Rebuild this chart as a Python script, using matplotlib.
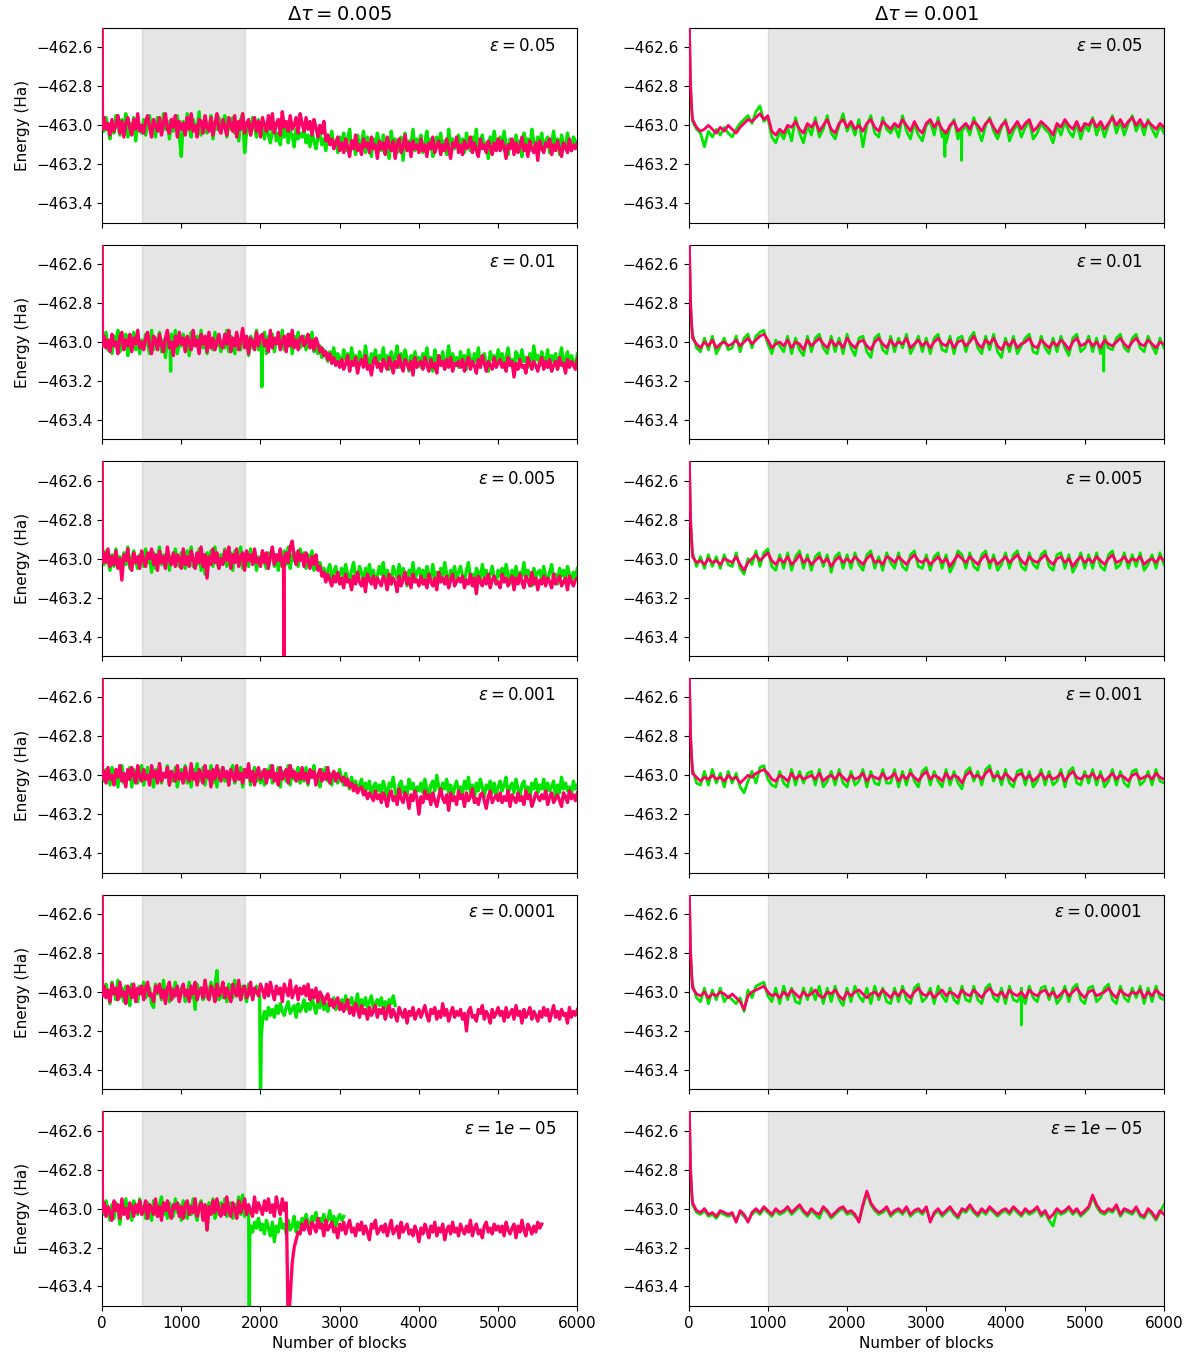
import numpy as np
import matplotlib
matplotlib.use("Agg")
import matplotlib.pyplot as plt

# Energies are stored as offsets from E_REF in units of 0.01 Ha
E_REF = -463.0
UNIT = 0.01

# sampling grids of the block traces
blocks_left = np.arange(25, 6001, 25)    # dtau = 0.005 runs
blocks_right = np.arange(50, 6001, 50)   # dtau = 0.001 runs

dtau_labels = ["0.005", "0.001"]
eps_labels = ["0.05", "0.01", "0.005", "0.001", "0.0001", "1e-05"]
yticks = [-462.6, -462.8, -463.0, -463.2, -463.4]
xticks = [0, 1000, 2000, 3000, 4000, 5000, 6000]
equil_left = (500, 1800)
equil_right = (1000, 6000)

# start of every run (equilibration transient)
left_head_blocks = [0, 5]
left_head_vals = [60, -2]
right_head_blocks = [0, 10, 25, 40]
right_head_vals = [60, 50, 20, 8]

# ---------------- dtau = 0.005 ----------------
l1_green = [
    -3, 4, -1, -7, 2, -4, 5, 0, -5, 3, -2, 6, -6, 1, -3, 4, -8, 2, -1, -4,
    3, -5, 1, 5, -3, -1, -6, 4, 0, -4, 6, -2, 2, -7, 3, -3, 1, 5, -5, -16,
    2, -4, 6, -1, -6, 3, 0, -3, 7, -5, 1, 4, -4, -1, 5, -7, 2, -2, 4, -3,
    0, 5, -6, 2, -2, 4, -4, 1, -8, 3, 6, -14, -3, 2, -5, 4, -1, -6, 3, -4,
    -2, -7, 1, -5, -9, -3, 0, -8, -4, -10, -1, -6, 2, -9, -3, -5, -11, -2, -7, -4,
    -6, -2, -9, -5, -11, -3, -8, -12, -6, -4, -10, -7, -13, -5, -9, -3, -11, -8, -14, -6,
    -10, -4, -13, -7, -2, -12, -8, -15, -5, -11, -9, -3, -14, -6, -10, -16, -7, -12, -4, -9,
    -13, -5, -10, -8, -17, -3, -11, -7, -14, -9, -6, -18, -4, -12, -8, -10, -2, -13, -7, -11,
    -5, -14, -9, -3, -12, -7, -16, -10, -6, -11, -4, -13, -8, -15, -2, -10, -7, -12, -9, -5,
    -11, -7, -14, -4, -9, -13, -6, -10, -2, -15, -8, -5, -12, -9, -17, -6, -11, -3, -10, -8,
    -6, -12, -3, -10, -15, -7, -9, -13, -5, -11, -8, -16, -4, -10, -7, -13, -2, -9, -12, -6,
    -10, -4, -13, -8, -6, -14, -9, -3, -11, -7, -15, -5, -10, -12, -4, -9, -13, -6, -8, -11,
]
l1_pink = [
    4, -2, 1, -5, 3, -3, 0, 5, -4, 2, -6, 1, 4, -1, -5, 3, -2, 6, -3, 0,
    -4, 2, 5, -1, -6, 3, 0, -3, 4, -5, 1, 6, -2, -4, 3, -1, 5, -6, 2, -2,
    1, -5, 4, -2, 6, -3, 0, -6, 3, 2, -4, 5, -1, -3, 4, -5, 1, 6, -2, -4,
    3, -1, -5, 4, 0, -3, 5, -6, 2, -2, 6, -4, 1, 3, -5, 0, 4, -3, 2, -6,
    4, 0, -3, 5, -2, 6, -4, 1, 3, -5, 7, -1, 2, -3, 5, -2, 0, 4, -4, 6,
    1, -3, 4, -2, 2, -5, 3, -1, -6, 0, -4, 2, -8, -5, -10, -7, -12, -9, -6, -13,
    -9, -14, -7, -11, -16, -8, -12, -5, -13, -10, -15, -7, -11, -9, -14, -6, -12, -10, -17, -8,
    -12, -9, -15, -6, -11, -13, -8, -17, -10, -7, -14, -11, -5, -13, -9, -16, -8, -12, -10, -14,
    -7, -13, -10, -16, -9, -12, -6, -14, -11, -8, -15, -10, -13, -7, -12, -17, -9, -11, -6, -14,
    -10, -15, -8, -12, -11, -6, -14, -9, -13, -16, -7, -12, -10, -14, -8, -11, -15, -9, -13, -7,
    -13, -8, -11, -17, -10, -12, -7, -15, -9, -14, -11, -6, -13, -10, -16, -8, -12, -14, -9, -18,
    -8, -12, -14, -9, -11, -7, -15, -10, -13, -8, -12, -16, -9, -11, -14, -7, -13, -10, -12, -9,
]

l2_green = [
    -2, 5, -4, 1, -6, 3, -1, 6, -5, 2, -3, 4, -7, 0, -2, 5, -4, 3, -6, 1,
    -3, 4, -1, -6, 6, -4, 2, -2, 5, -5, 1, -8, 3, -1, 4, -3, 6, -6, 0, -2,
    4, -4, 2, -7, 5, -2, 0, 3, -5, 6, -3, 1, -6, 4, -1, -4, 5, -2, 2, -5,
    1, -3, 6, -5, 3, -1, -6, 4, 0, -4, 5, -2, 2, -7, 3, -3, 1, 6, -4, 0,
    -2, 5, -6, 3, -1, 4, -5, 2, 0, -3, 6, -4, 1, -2, 4, -6, 3, -1, 5, -3,
    -1, 3, -4, 1, -3, 5, -5, -1, -6, -2, -8, -4, -7, -10, -5, -9, -3, -11, -6, -8,
    -12, -4, -9, -6, -13, -3, -10, -7, -14, -5, -8, -11, -2, -9, -13, -6, -10, -4, -12, -7,
    -9, -3, -11, -7, -14, -5, -10, -8, -2, -13, -6, -12, -4, -9, -15, -7, -11, -5, -10, -8,
    -13, -6, -9, -3, -12, -8, -15, -4, -10, -7, -11, -5, -14, -9, -2, -12, -6, -10, -8, -13,
    -5, -11, -7, -14, -4, -9, -12, -6, -10, -3, -13, -8, -6, -11, -15, -5, -9, -7, -12, -4,
    -10, -6, -13, -8, -3, -11, -9, -14, -5, -7, -12, -4, -10, -8, -13, -6, -11, -2, -9, -7,
    -12, -5, -9, -11, -4, -13, -7, -10, -6, -14, -8, -3, -11, -9, -5, -12, -7, -10, -13, -6,
]
l2_green_spike_blocks = [860, 865, 870, 2012, 2017, 2022]
l2_green_spike_vals = [-2, -15, -1, -3, -23, -3]
l2_pink = [
    3, -3, 1, -5, 4, -2, 0, -6, 3, 5, -4, 1, -2, 4, -5, 2, -1, 6, -3, 0,
    -4, 2, 5, -2, -6, 3, 1, -4, 4, -1, -5, 2, 6, -3, 0, -7, 3, -2, 5, -1,
    2, -5, 3, 0, -4, 6, -2, 1, -6, 4, -1, 3, -5, 5, -3, 2, -4, 0, 4, -2,
    -3, 4, -1, 6, -5, 2, -2, 5, -4, 1, 7, -3, 3, -6, 2, 0, -4, 5, -2, 3,
    4, -2, 1, -5, 6, -3, 2, -1, 5, -4, 0, 3, -5, 4, -2, 6, -3, 1, -4, 2,
    3, -2, 0, 4, -3, 1, -4, 2, -1, -5, -3, -7, -5, -9, -6, -11, -8, -12, -10, -13,
    -9, -14, -11, -7, -15, -10, -12, -8, -16, -11, -9, -13, -7, -14, -12, -17, -10, -8, -13, -11,
    -15, -9, -12, -14, -8, -11, -16, -10, -13, -7, -12, -15, -9, -11, -14, -10, -17, -8, -13, -11,
    -10, -14, -8, -12, -15, -9, -13, -11, -16, -7, -12, -10, -14, -9, -13, -8, -15, -11, -12, -10,
    -13, -9, -15, -11, -8, -14, -10, -12, -16, -9, -13, -7, -11, -15, -10, -12, -14, -8, -13, -11,
    -9, -13, -11, -15, -8, -12, -10, -18, -11, -14, -9, -13, -12, -16, -8, -11, -14, -10, -12, -15,
    -11, -8, -14, -10, -13, -9, -15, -12, -10, -14, -8, -12, -11, -16, -9, -13, -10, -12, -14, -9,
]

l3_green = [
    -3, 4, -1, -6, 2, -4, 5, -2, 1, -7, 3, -3, 6, -5, 0, 4, -2, -5, 2, -1,
    -4, 5, -2, 1, -7, 3, -5, 0, 6, -3, 2, -4, 4, -6, 1, -2, 5, -1, -4, 3,
    1, -5, 4, -2, 6, -4, 0, -3, 5, -6, 2, -8, 3, -1, 4, -4, 6, -2, -5, 2,
    -2, 5, -4, 1, 3, -6, 4, -1, -3, 6, -5, 2, 0, -4, 5, -2, 3, -6, 1, -3,
    4, -2, -5, 3, 0, 5, -4, 2, -6, 1, -2, 4, -3, 6, -5, 2, -1, 3, -4, 5,
    -1, 3, -5, 2, -3, 4, -6, 0, -4, -2, -7, -5, -9, -6, -3, -10, -7, -4, -11, -8,
    -5, -10, -3, -8, -12, -6, -2, -9, -11, -4, -7, -13, -5, -8, -3, -10, -6, -12, -9, -4,
    -8, -2, -11, -6, -9, -13, -4, -7, -10, -3, -12, -5, -8, -14, -6, -9, -2, -11, -7, -5,
    -10, -6, -13, -4, -8, -11, -3, -9, -7, -12, -5, -10, -2, -8, -13, -6, -9, -4, -11, -7,
    -4, -9, -12, -6, -2, -10, -8, -14, -5, -7, -11, -3, -9, -6, -12, -8, -4, -10, -13, -6,
    -9, -5, -11, -3, -8, -13, -6, -10, -4, -12, -7, -9, -2, -11, -6, -8, -14, -5, -10, -7,
    -6, -11, -4, -9, -12, -7, -3, -10, -8, -13, -5, -9, -6, -11, -4, -8, -12, -7, -10, -5,
]
l3_pink = [
    3, -2, 5, -4, 1, -3, 4, -5, 0, -11, 2, -1, 5, -3, -6, 3, -2, 1, -5, 4,
    -1, -4, 3, 0, 5, -3, 2, -6, 4, -2, 1, -5, 6, -1, -3, 3, -4, 2, 0, -5,
    5, -3, 1, -4, 4, 0, -5, 3, -2, 6, -4, 2, -10, 1, -3, 5, -2, 3, -5, 0,
    -3, 4, -1, 6, -5, 2, -2, 5, -4, 1, 3, -6, 4, -1, 2, -3, 5, -2, 0, -4,
    4, -2, 3, -5, 1, 6, -3, 2, -1, 5, -4, 0, 3, -2, 6, 9, 1, -3, 4, -1,
    2, -4, 3, -1, -5, 1, -3, 2, -6, -4, -9, -7, -12, -8, -11, -14, -9, -12, -7, -13,
    -10, -15, -8, -12, -11, -16, -9, -13, -7, -12, -14, -10, -17, -8, -11, -13, -9, -15, -10, -12,
    -14, -9, -11, -16, -8, -13, -10, -12, -17, -9, -14, -11, -7, -13, -10, -15, -8, -12, -11, -14,
    -9, -13, -11, -15, -8, -12, -14, -10, -16, -7, -12, -10, -13, -9, -15, -11, -8, -14, -12, -10,
    -12, -9, -15, -11, -13, -8, -14, -10, -18, -9, -12, -14, -10, -13, -8, -15, -11, -9, -13, -12,
    -15, -8, -12, -10, -14, -11, -9, -16, -10, -13, -8, -12, -15, -9, -11, -14, -7, -13, -10, -16,
    -11, -13, -9, -14, -10, -12, -15, -8, -13, -11, -9, -14, -12, -10, -16, -9, -12, -14, -11, -10,
]
l3_pink_spike_blocks = [2290, 2295, 2298]
l3_pink_spike_vals = [0, -60, -1]

l4_green = [
    -3, 3, -1, -5, 4, -2, 1, -6, 2, 5, -4, 0, -2, 4, -6, 3, -1, -4, 2, 5,
    -5, 1, 4, -3, 0, -6, 3, -2, 6, -4, 1, -1, 5, -5, 2, -3, 4, -6, 0, 3,
    -2, 5, -4, 1, -6, 3, -1, 6, -3, 0, 4, -5, 2, -2, 5, -4, 1, -6, 3, -1,
    4, -3, 0, -5, 2, 5, -4, 1, -2, 4, -6, 3, -1, 2, -5, 0, 4, -3, 1, -4,
    2, -5, 3, -1, 5, -4, 0, -2, 4, -6, 2, 1, -3, 5, -5, 3, -2, 0, 4, -4,
    1, -3, 4, -5, 2, -1, 5, -4, 0, -6, 3, -2, 4, -3, 1, -5, 2, 0, -4, 3,
    -2, -5, 1, -4, -7, -1, -6, -3, -8, -5, -2, -9, -4, -7, -3, -10, -6, -4, -8, -5,
    -9, -3, -7, -11, -4, -6, -1, -8, -12, -5, -3, -9, -6, -10, -2, -7, -4, -11, -6, -8,
    -4, -9, -2, -7, -11, -5, -3, -8, 0, -6, -10, -4, -7, -2, -9, -5, -12, -6, -3, -8,
    -6, -10, -3, -7, -1, -9, -5, -12, -4, -8, -2, -6, -11, -5, -7, -3, -9, -4, -10, -6,
    -3, -8, -5, -1, -10, -6, -4, -9, -2, -7, -11, -5, -3, -8, -6, -12, -4, -7, -2, -9,
    -5, -7, -2, -10, -4, -8, -6, -3, -11, -5, -9, -1, -7, -4, -8, -6, -10, -3, -7, -5,
]
l4_pink = [
    2, -4, 4, -2, 0, -5, 3, -1, 5, -3, 1, -6, 3, -2, 4, 0, -4, 5, -1, -3,
    3, -2, 0, -5, 5, -1, 2, -4, 6, -3, 1, -1, 4, -5, 2, 0, -3, 5, -2, 1,
    -4, 4, -1, -3, 6, -2, 1, -5, 3, 0, -4, 5, -1, 2, -6, 3, -2, 5, 0, -3,
    4, -1, 2, -5, 3, 0, -3, 5, -2, 1, -4, 3, -1, 6, -3, 2, -5, 1, 4, -2,
    0, 3, -4, 2, -1, 5, -3, 1, -5, 4, -2, 0, 3, -4, 5, -1, 2, -3, 1, -2,
    4, -2, 1, -4, 3, -1, 2, -5, 0, 3, -3, 1, -2, 4, -4, 0, 2, -3, 1, -1,
    -3, -1, -5, -2, -6, -4, -8, -5, -9, -7, -6, -10, -8, -12, -9, -11, -13, -8, -12, -10,
    -14, -9, -12, -16, -10, -8, -13, -11, -15, -7, -12, -14, -9, -11, -17, -10, -13, -8, -12, -20,
    -11, -14, -8, -12, -10, -15, -9, -13, -16, -11, -7, -12, -14, -10, -18, -9, -13, -11, -15, -8,
    -12, -10, -16, -9, -13, -11, -7, -14, -12, -15, -10, -9, -13, -17, -11, -8, -14, -12, -10, -13,
    -9, -14, -11, -13, -8, -16, -10, -12, -14, -9, -13, -11, -15, -8, -12, -10, -16, -13, -9, -11,
    -13, -10, -12, -8, -15, -11, -9, -14, -12, -10, -13, -16, -9, -11, -14, -8, -12, -10, -13, -9,
]

l5_green = [
    -2, 4, -1, -6, 5, 1, -4, 6, -3, 2, -5, 3, 0, -7, 4, -2, 1, -5, 3, -1,
    5, -3, 0, 2, -6, -8, 4, -1, 3, -4, 6, -2, 1, -5, 2, -3, 5, 0, -4, 2,
    3, -5, -2, 5, -3, 1, -9, 4, -1, 2, -4, 6, -3, 0, 5, -2, 3, 11, -4, 2,
    -3, 2, -5, 4, 0, -3, 6, -2, 1, -4, 3, -1, -5, 4, 2, -3, 0, 3, -2, -60,
    -15, -10, -14, -8, -12, -9, -13, -7, -11, -6, -10, -12, -8, -5, -11, -9, -7, -13, -6, -10,
    -8, -4, -10, -6, -9, -3, -7, -11, -5, -8, -2, -9, -6, -10, -4, -7, -3, -9, -5, -8,
    -4, -7, -2, -9, -5, -3, -8, -6, -1, -10, -4, -7, -3, -8, -5, -2, -9, -6, -4, -7,
    -3, -8, -5, -10, -4, -6, -2, -7,
]
l5_green_spike_blocks = [1990, 2010]
l5_green_spike_vals = [-2, -22]
l5_pink = [
    3, -3, 1, -5, 4, -1, 2, -4, 5, -2, 0, -6, 3, 1, -3, 4, -5, 2, -1, 3,
    -4, 2, 5, -2, -1, -5, 3, 0, 4, -3, 1, -6, 2, 5, -4, 1, -2, 3, -5, 0,
    4, -2, 1, -5, 3, -1, 5, -4, 0, 2, -3, 6, -1, -4, 3, 1, -5, 4, -2, 0,
    5, -3, 2, -1, -5, 4, 0, -2, 6, -4, 1, 3, -3, -1, 5, -4, 2, 0, -2, 4,
    1, -3, 4, -2, 5, 0, -4, 3, -1, 2, -5, 4, 1, -2, 6, -3, 0, 3, -4, 2,
    -1, 3, -2, 4, -4, 1, -3, 2, -5, 0, -2, -6, -3, -1, -7, -4, -8, -5, -3, -9,
    -6, -10, -7, -4, -11, -8, -12, -6, -9, -13, -7, -11, -9, -14, -8, -12, -10, -7, -13, -9,
    -11, -8, -14, -10, -7, -13, -9, -12, -15, -8, -11, -13, -9, -16, -10, -12, -8, -14, -11, -9,
    -13, -10, -7, -12, -15, -9, -11, -8, -14, -10, -13, -6, -12, -9, -15, -11, -8, -13, -10, -12,
    -9, -14, -11, -20, -10, -8, -13, -12, -15, -9, -11, -7, -14, -10, -12, -16, -9, -13, -11, -8,
    -12, -10, -15, -8, -13, -11, -9, -14, -7, -12, -10, -16, -9, -13, -11, -8, -14, -10, -12, -15,
    -10, -13, -8, -12, -9, -15, -11, -7, -13, -10, -14, -9, -12, -11, -16, -8, -13, -10, -12, -9,
]

l6_green = [
    -3, 4, -1, -6, 2, -5, 3, 0, -8, 1, -2, 5, -4, 2, -6, 4, -1, -3, 5, -2,
    1, -5, 3, -2, -6, 4, 0, -4, 2, 6, -3, 1, -5, 3, -1, -4, 5, -2, 2, -6,
    4, -1, -5, 2, -3, 5, -2, -6, 1, 4, -4, 0, -11, 3, -2, 5, -5, 1, -3, 3,
    -2, 5, -4, 0, 3, -5, 2, -1, 6, -3, 7, -4, 1, -2, -9, -12, -7, -10, -5, -11,
    -8, -13, -6, -10, -14, -7, -17, -9, -12, -5, -10, -8, -13, -6, -11, -9, -4, -12, -7, -10,
    -5, -8, -3, -7, -10, -4, -6, -2, -9, -5, -7, -3, -8, -6, -1, -7, -4, -9, -5, -3,
    -6, -4,
]
l6_green_spike_blocks = [1858, 1865]
l6_green_spike_vals = [-60, -14]
l6_pink = [
    3, -4, 1, -2, -6, 4, -1, 2, -5, 5, -3, 0, -5, 3, 1, -4, 2, -2, 4, -3,
    -1, 4, -5, 2, 0, -3, 5, -4, 1, -6, 3, -1, 4, -2, -5, 2, 0, 3, -4, 1,
    -5, 2, 4, -3, 1, -2, 5, -4, 0, 3, -6, 2, -11, 1, -3, 4, -2, 5, -1, -4,
    2, -3, 6, -1, -4, 3, 0, -5, 4, -2, 1, 5, -3, 2, -1, -4, 6, -2, 3, 0,
    -3, 4, -1, 5, -2, 2, -4, 6, 1, -3, 5, -1, 3, -60, -45, -28, -20, -16, -12, -13,
    -8, -11, -6, -10, -13, -7, -9, -12, -5, -10, -8, -14, -6, -11, -9, -7, -12, -10, -15, -8,
    -11, -7, -13, -9, -6, -12, -10, -14, -8, -11, -7, -13, -9, -12, -16, -8, -10, -6, -13, -11,
    -9, -12, -8, -14, -10, -6, -13, -11, -9, -15, -7, -12, -10, -8, -13, -11, -14, -9, -12, -17,
    -10, -13, -8, -11, -15, -9, -12, -7, -14, -10, -12, -8, -16, -11, -9, -13, -7, -12, -10, -14,
    -8, -11, -13, -9, -12, -6, -14, -10, -8, -13, -11, -15, -9, -7, -12, -10, -13, -8, -11, -9,
    -12, -9, -14, -7, -11, -13, -10, -8, -15, -9, -12, -6, -11, -14, -8, -10, -13, -9, -12, -7,
    -10, -8,
]

# ---------------- dtau = 0.001 ----------------
r1_green = [
    2, -2, -4, -11, -3, -6, -2, -5, -1, -4,
    -6, -2, 1, 3, 5, 1, 7, 10, 2, 4,
    -6, -9, -3, -7, -1, -8, 4, -4, -9, 0,
    -5, 4, -6, -2, 5, -4, -7, 0, 6, -3,
    1, -5, 3, -11, 0, 5, -4, -6, 4, -2,
    -4, 0, -6, 5, -3, -7, 1, -5, -8, 0,
    2, -5, 4, -6, -9, -1, 3, -7, -4, 0,
    -5, 4, -2, -8, 0, 4, -3, -7, -1, 3,
    -8, -3, 1, -6, -1, 2, -7, -4, 1, -2,
    -4, -9, 0, -5, 2, -3, -6, 1, -7, 0,
    -3, 4, -5, 1, -6, 0, 5, -4, 2, -5,
    1, 5, -3, 2, -5, 3, -2, -6, 0, -4,
]
r1_green_spike_blocks = [3230, 3235, 3240, 3440, 3445, 3450]
r1_green_spike_vals = [-3, -16, -4, -2, -18, -3]
r1_pink = [
    3, -1, -3, -2, 0, -2, -4, -1, -3, 0,
    -2, -4, -1, 1, 3, 2, 4, 6, 3, 5,
    -3, -5, -2, -4, 0, -1, 2, -2, -4, 1,
    -1, 2, -3, 0, 3, -2, -4, 1, 3, -1,
    2, -2, 0, -3, 1, 3, -1, -3, 2, 0,
    -2, 1, -1, 3, 0, -3, 2, -2, -4, 1,
    3, -1, 2, -2, -4, 0, 2, -3, -1, 1,
    -2, 2, 0, -3, 1, 3, -1, -4, 0, 2,
    -4, -1, 2, -2, 1, 3, -3, -1, 2, 0,
    -2, -5, 1, -1, 3, 0, -2, 2, -3, 1,
    0, 3, -1, 2, -2, 1, 4, 0, 3, -1,
    2, 4, 0, 3, -1, 2, 0, -2, 1, -1,
]

r2_green = [
    4, -3, -5, 2, -4, 3, -6, -2, 2, -4,
    -3, 3, -5, 2, 4, -3, 3, 5, 6, -1,
    -6, 1, -2, -5, 3, -6, 2, -4, -7, 3,
    -5, 2, 4, -3, -6, 3, -5, 2, -6, 4,
    -3, -7, 2, 3, -5, -8, 2, 4, -4, -6,
    3, -5, 2, -3, 4, -6, -2, 3, -5, 2,
    -6, 2, 4, -4, -5, 3, -6, 2, 3, -5,
    2, 5, -3, -6, 3, -4, 4, -5, -8, 2,
    -5, 3, -6, -2, 2, 4, -5, -6, 3, -3,
    -6, 2, -5, 3, -3, -7, 2, 4, -5, -3,
    3, -5, 2, -6, 3, -3, -4, 2, 4, -3,
    -5, 2, 4, -3, -5, 3, -2, -6, 2, -3,
]
r2_green_spike_blocks = [5235, 5240, 5245]
r2_green_spike_vals = [-2, -15, -2]
r2_pink = [
    2, -1, -3, 0, -2, 1, -3, -1, 0, -2,
    -1, 1, -2, 0, 2, -1, 1, 3, 4, 1,
    -3, -1, 0, -2, 1, -3, 0, -1, -4, 1,
    -2, 0, 2, -1, -3, 1, -2, 0, -3, 2,
    -1, -3, 0, 1, -2, -4, 0, 2, -1, -3,
    1, -2, 0, -1, 2, -3, -1, 1, -2, 0,
    -3, 0, 2, -1, -2, 1, -3, 0, 1, -2,
    0, 3, -1, -3, 1, -1, 2, -2, -4, 0,
    -2, 1, -3, -1, 0, 2, -2, -3, 1, -1,
    -3, 0, -2, 1, -1, -4, 0, 2, -2, -1,
    1, -2, 0, -3, 1, -1, -2, 0, 2, -1,
    -3, 0, 2, -1, -2, 1, -1, -3, 0, -1,
]

r3_green = [
    3, -4, 1, -5, 2, -4, 1, -5, 2, -3,
    -4, 3, -5, -8, 0, -3, 4, -4, 3, 5,
    -4, -6, 2, -5, 3, -6, 1, 4, -5, 2,
    -6, 1, 3, -4, 2, -7, 1, 3, -5, 2,
    -5, 3, -3, -6, 2, 4, -5, 1, -6, 3,
    -2, -5, 3, -4, -6, 2, 4, -4, -5, 2,
    -6, 1, 3, -5, 2, -7, -3, 4, 2, -5,
    3, -4, -6, 2, 4, -5, 2, -6, -3, 3,
    -5, 2, 4, -4, -6, 3, -3, -5, 2, 4,
    -4, -6, 2, 3, -5, 2, -7, -3, 3, -5,
    2, -5, 3, -4, -6, 2, 4, -5, -3, 3,
    -5, 2, -4, 3, -6, -3, 2, -5, 3, -3,
]
r3_pink = [
    1, -2, -1, -3, 0, -2, -1, -3, 0, -1,
    -2, 1, -3, -6, -2, 0, 2, -1, 1, 3,
    -1, -3, 0, -2, 1, -3, -1, 2, -2, 0,
    -3, -1, 1, -2, 0, -4, -1, 1, -2, 0,
    -2, 1, -1, -3, 0, 2, -2, -1, -3, 1,
    0, -2, 1, -1, -3, 0, 2, -1, -2, 0,
    -3, -1, 1, -2, 0, -4, -1, 2, 0, -2,
    1, -1, -3, 0, 2, -2, 0, -3, -1, 1,
    -2, 0, 2, -1, -3, 1, -1, -2, 0, 2,
    -1, -3, 0, 1, -2, 0, -4, -1, 1, -2,
    0, -2, 1, -1, -3, 0, 2, -2, -1, 1,
    -2, 0, -1, 1, -3, -1, 0, -2, 1, -1,
]

r4_green = [
    3, -4, -5, 2, -5, 3, -4, 1, -6, 2,
    -4, 1, -6, -9, -3, 2, -4, 4, 5, -2,
    -5, -6, 2, -4, -6, 3, -5, 2, -4, 1,
    2, -5, 3, -6, -3, 2, -5, 3, -4, -6,
    2, -5, -3, 3, -6, 2, -4, -5, 3, -4,
    -4, 3, -6, 2, -5, 3, -3, -6, 2, 4,
    -5, 2, -3, -6, 3, -5, 2, -4, -7, 2,
    4, -3, 2, -5, 3, 5, -3, 2, -5, 3,
    -4, -6, 2, 3, -5, 2, -6, -3, 3, -5,
    2, -5, -3, 3, -6, 2, 4, -4, -5, 2,
    -4, 3, -5, 2, -6, -3, 3, -5, 2, -4,
    -6, 2, 3, -5, -3, 2, -5, 3, -3, -4,
]
r4_pink = [
    1, -1, -3, -1, -2, 0, -2, -1, -3, 0,
    -2, -1, -4, -2, 0, -1, 1, 2, 3, 1,
    -2, -3, 0, -1, -3, 1, -2, 0, -2, -1,
    0, -2, 1, -3, -1, 0, -2, 1, -1, -3,
    0, -2, -1, 1, -3, 0, -1, -2, 1, -2,
    -1, 1, -3, 0, -2, 1, -1, -3, 0, 2,
    -2, 0, -1, -3, 1, -2, 0, -1, -4, 0,
    2, -1, 0, -2, 1, 3, -1, 0, -2, 1,
    -1, -3, 0, 1, -2, 0, -3, -1, 1, -2,
    0, -2, -1, 1, -3, 0, 2, -1, -2, 0,
    -1, 1, -2, 0, -3, -1, 1, -2, 0, -1,
    -3, 0, 1, -2, -1, 0, -2, 1, -1, -2,
]

r5_green = [
    4, -3, -5, 2, -6, 1, -4, 2, -5, -2,
    -4, -6, -3, -10, 1, -3, 3, 4, 5, -2,
    -5, 2, -6, 3, -4, 2, -5, -6, 2, -4,
    2, -4, 3, -6, 2, -5, 3, -4, -7, 2,
    -5, 3, -2, -5, 2, -6, 3, -4, 2, -5,
    -6, 2, -5, 3, -4, -6, 2, 4, -5, -3,
    2, -6, 3, -2, -5, 2, -4, -6, 3, -4,
    -5, 3, -4, -6, 2, 4, -3, -5, 2, -6,
    3, -4, -5, 2, -6, 3, -3, -5, 2, 3,
    -4, 2, -6, -3, 3, -5, 2, 4, -4, -6,
    2, 3, -5, -3, 2, 4, -4, -6, 3, -3,
    -5, 2, -3, 3, -6, 2, -5, 3, -3, -4,
]
r5_green_spike_blocks = [4195, 4200, 4205]
r5_green_spike_vals = [-2, -17, -2]
r5_pink = [
    2, -1, -2, 0, -3, -1, -2, 0, -1, -3,
    -1, -3, -5, -9, -2, 0, 1, 2, 3, 0,
    -2, -1, -3, 0, -2, 1, -1, -3, 0, -2,
    -1, 1, -2, -3, 0, -1, 1, -2, -4, 0,
    -2, 0, 1, -1, -3, -1, 0, -2, 1, -1,
    -3, 0, -2, 1, -1, -3, 0, 2, -1, -2,
    0, -3, -1, 1, -2, 0, -1, -3, 1, -1,
    -2, 1, -1, -3, 0, 2, -1, -2, 0, -3,
    1, -1, -2, 0, -3, 1, -1, -2, 0, 1,
    -2, 0, -3, -1, 1, -2, 0, 2, -1, -3,
    0, 1, -2, -1, 0, 2, -1, -3, 1, -1,
    -2, 0, -1, 1, -3, 0, -2, 1, -1, -2,
]

r6_green = [
    2, -2, -3, -1, -4, -3, -5, -2, -3, -4,
    -3, -6, -2, -4, -6, -3, -1, -3, 0, -2,
    -4, -1, -3, -2, 0, -3, -1, 1, -2, -4,
    -1, -3, -5, 0, -2, -5, -3, -1, 0, -3,
    -2, -4, -6, 1, 8, 2, -1, -3, -2, 0,
    -4, -2, -1, -3, 0, -4, -2, -1, -3, 0,
    -6, -3, -1, -4, -2, 0, -3, -5, -1, -2,
    1, -2, -4, -1, -3, 0, -2, -4, -2, -1,
    -3, 0, -2, -4, -1, -3, -2, 0, -4, -2,
    -6, -9, -1, -3, -2, 0, -3, -1, -4, -2,
    0, 6, 1, -2, -3, -1, -2, 1, -4, -1,
    -2, -3, 0, -4, -5, -1, -3, -6, -2, 2,
]
r6_pink = [
    3, -1, -2, 0, -3, -2, -4, -1, -2, -3,
    -2, -7, -1, -3, -7, -2, 0, -2, 1, -1,
    -3, 0, -2, -1, 1, -2, 0, 2, -1, -3,
    0, -2, -3, 1, -1, -4, -2, 0, 1, -2,
    -1, -3, -7, 2, 9, 3, 0, -2, -1, 1,
    -3, -1, 0, -2, 1, -3, -1, 0, -2, 1,
    -7, -2, 0, -3, -1, 1, -2, -4, 0, -1,
    2, -1, -3, 0, -2, 1, -1, -3, -1, 0,
    -2, 1, -1, -3, 0, -2, -1, 1, -3, -1,
    -5, -3, 0, -2, -1, 1, -2, 0, -3, -1,
    1, 7, 2, -1, -2, 0, -1, 2, -3, 0,
    -1, -2, 1, -3, -4, 0, -2, -5, -1, -3,
]

left_column = [
    (l1_green, [], [], l1_pink, [], []),
    (l2_green, l2_green_spike_blocks, l2_green_spike_vals, l2_pink, [], []),
    (l3_green, [], [], l3_pink, l3_pink_spike_blocks, l3_pink_spike_vals),
    (l4_green, [], [], l4_pink, [], []),
    (l5_green, l5_green_spike_blocks, l5_green_spike_vals, l5_pink, [], []),
    (l6_green, l6_green_spike_blocks, l6_green_spike_vals, l6_pink, [], []),
]
right_column = [
    (r1_green, r1_green_spike_blocks, r1_green_spike_vals, r1_pink, [], []),
    (r2_green, r2_green_spike_blocks, r2_green_spike_vals, r2_pink, [], []),
    (r3_green, [], [], r3_pink, [], []),
    (r4_green, [], [], r4_pink, [], []),
    (r5_green, r5_green_spike_blocks, r5_green_spike_vals, r5_pink, [], []),
    (r6_green, [], [], r6_pink, [], []),
]

GREEN = "#00e600"
PINK = "#ff0066"


def trace(vals, grid, head_x, head_v, extra_x, extra_v):
    x = np.concatenate([head_x, grid[:len(vals)], extra_x]).astype(float)
    v = np.concatenate([head_v, vals, extra_v]).astype(float)
    order = np.argsort(x, kind="stable")
    return x[order], E_REF + UNIT * v[order]


plt.rcParams["font.family"] = "DejaVu Sans"
fig, axes = plt.subplots(6, 2, figsize=(11.95, 13.54), dpi=100)
fig.subplots_adjust(left=0.0854, right=0.974, top=0.9793, bottom=0.0355,
                    wspace=0.234, hspace=0.113)

FS = 11
columns = [
    (left_column, blocks_left, equil_left, left_head_blocks, left_head_vals, 2.4),
    (right_column, blocks_right, equil_right, right_head_blocks, right_head_vals, 2.0),
]
for col, (column, grid, span, hx, hv, lw) in enumerate(columns):
    for row, (g, gx, gv, p, px, pv) in enumerate(column):
        ax = axes[row, col]
        ax.axvspan(span[0], span[1], color="grey", alpha=0.2, zorder=0)
        xg, yg = trace(g, grid, hx, hv, gx, gv)
        xp, yp = trace(p, grid, hx, hv, px, pv)
        ax.plot(xg, yg, color=GREEN, lw=lw, zorder=2)
        ax.plot(xp, yp, color=PINK, lw=lw, zorder=3)
        ax.set_xlim(0, 6000)
        ax.set_ylim(-463.5, -462.5)
        ax.set_yticks(yticks)
        ax.set_xticks(xticks)
        ax.tick_params(labelsize=FS)
        ax.text(0.955, 0.91, r"$\varepsilon = %s$" % eps_labels[row],
                transform=ax.transAxes, ha="right", va="center", fontsize=12)
        if row < 5:
            ax.tick_params(labelbottom=False)
        else:
            ax.set_xlabel("Number of blocks", fontsize=FS)
        if col == 0:
            ax.set_ylabel("Energy (Ha)", fontsize=FS)
        if row == 0:
            ax.set_title(r"$\Delta\tau = %s$" % dtau_labels[col], fontsize=14)

fig.savefig("out.png", dpi=100)
